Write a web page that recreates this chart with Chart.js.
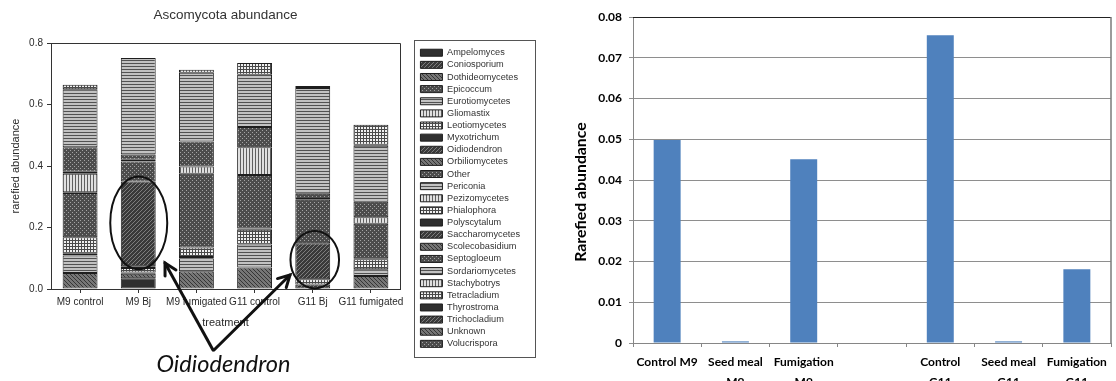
<!DOCTYPE html>
<html><head><meta charset="utf-8">
<script src="https://cdn.jsdelivr.net/npm/chart.js@4.4.1/dist/chart.umd.min.js"></script>
<style>
html,body{margin:0;padding:0;background:#fff;width:1116px;height:381px;overflow:hidden;}
#left{position:absolute;left:0;top:0;}
#right{position:absolute;left:560px;top:0;}
</style></head><body>
<canvas id="left" width="560" height="381"></canvas>
<canvas id="right" width="556" height="381"></canvas>
<script>
// ---------- Left chart data ----------
const treatments = ['M9 control','M9 Bj','M9 fumigated','G11 control','G11 Bj','G11 fumigated'];
const taxa = ['Ampelomyces','Coniosporium','Dothideomycetes','Epicoccum','Eurotiomycetes','Gliomastix',
  'Leotiomycetes','Myxotrichum','Oidiodendron','Orbiliomycetes','Other','Periconia','Pezizomycetes',
  'Phialophora','Polyscytalum','Saccharomycetes','Scolecobasidium','Septogloeum','Sordariomycetes',
  'Stachybotrys','Tetracladium','Thyrostroma','Trichocladium','Unknown','Volucrispora'];
// abundance per taxon (same order as taxa)
const m9Control    = [0,0,0.052,0,0.057,0.006,0.053,0,0,0,0.144,0.003,0.060,0,0.006,0,0,0.080,0.189,0,0.014,0,0,0,0];
const m9Bj         = [0.035,0,0.015,0,0.004,0,0.014,0.006,0.276,0,0.065,0,0,0.005,0,0,0,0.017,0.314,0,0,0,0,0,0];
const m9Fumigated  = [0,0,0.058,0,0.042,0.004,0.031,0,0,0,0.240,0,0.023,0,0,0,0,0.082,0.223,0,0.010,0,0,0,0];
const g11Control   = [0,0,0.070,0,0.075,0,0.048,0.004,0,0,0.174,0,0.090,0,0,0,0,0.066,0.170,0,0.038,0,0,0,0];
const g11Bj        = [0,0.015,0,0,0,0,0.017,0,0.117,0,0.141,0,0,0,0.003,0,0,0.017,0.344,0,0,0.006,0,0,0];
const g11Fumigated = [0,0,0.042,0,0.022,0,0.033,0.003,0,0,0.112,0,0.021,0,0,0,0,0.051,0.182,0.003,0.065,0,0,0,0];
const leftYTicks = ['0.0','0.2','0.4','0.6','0.8'];

// ---------- Right chart data ----------
const rightCategories = ['Control M9', ['Seed meal','M9'], ['Fumigation','M9'], '', ['Control','G11'], ['Seed meal','G11'], ['Fumigation','G11']];
const oidiodendronAbundance = [0.0498, 0.0004, 0.0451, null, 0.0755, 0.0004, 0.0181];
const rightYTicks = ['0','0.01','0.02','0.03','0.04','0.05','0.06','0.07','0.08'];

// ---------- patterns ----------
const leftCanvas = document.getElementById('left');
const lctx = leftCanvas.getContext('2d');
const patternKinds = ['solid','diag','backdiag','checker','horiz','vert','grid'];
function makePattern(kind){
  const c = document.createElement('canvas');
  const g = c.getContext('2d');
  let s = 4;
  if (kind==='horiz'||kind==='vert'||kind==='grid') s = 3;
  c.width = s; c.height = s;
  const px = (x,y,col)=>{g.fillStyle=col;g.fillRect(x,y,1,1);};
  switch(kind){
    case 'solid': g.fillStyle='#2f2f2f'; g.fillRect(0,0,s,s); break;
    case 'diag': g.fillStyle='#3a3a3a'; g.fillRect(0,0,s,s); for(let i=0;i<s;i++) px(i,s-1-i,'#7e7e7e'); break;
    case 'backdiag': g.fillStyle='#767676'; g.fillRect(0,0,s,s); for(let i=0;i<s;i++) px(i,i,'#353535'); break;
    case 'checker': g.fillStyle='#4c4c4c'; g.fillRect(0,0,s,s); px(0,0,'#a4a4a4'); px(2,2,'#a4a4a4'); break;
    case 'horiz': g.fillStyle='#c2c2c2'; g.fillRect(0,0,s,s); g.fillStyle='#525252'; g.fillRect(0,0,s,1); break;
    case 'vert': g.fillStyle='#e0e0e0'; g.fillRect(0,0,s,s); g.fillStyle='#606060'; g.fillRect(0,0,1,s); break;
    case 'grid': g.fillStyle='#f0f0f0'; g.fillRect(0,0,s,s); g.fillStyle='#4a4a4a'; g.fillRect(0,0,s,1); g.fillRect(0,0,1,s); break;
  }
  return lctx.createPattern(c,'repeat');
}
const patterns = {};
patternKinds.forEach(k=>patterns[k]=makePattern(k));

const perTreatment = [m9Control, m9Bj, m9Fumigated, g11Control, g11Bj, g11Fumigated];
const leftDatasets = taxa.map((name,i)=>({
  label: name,
  data: perTreatment.map(arr=>arr[i]),
  backgroundColor: patterns[patternKinds[i%7]],
  borderColor: '#1e1e1e',
  borderWidth: 1,
  borderSkipped: false,
  barPercentage: 0.6,
  categoryPercentage: 1
}));

const arial = "'Liberation Sans', Arial, sans-serif";
const txt = '#2a2a2a';

const leftDecor = {
  id: 'leftDecor',
  afterLayout(chart){
    const lg = chart.legend;
    if (!lg) return;
    lg.left = 417.5; lg.top = 45.2; lg.right = 537; lg.bottom = 357;
    lg.width = lg.right - lg.left; lg.height = lg.bottom - lg.top;
  },
  afterDraw(chart){
    const ctx = chart.ctx, a = chart.chartArea;
    ctx.save();
    ctx.strokeStyle = '#333'; ctx.lineWidth = 1;
    ctx.beginPath();
    ctx.moveTo(a.left, a.top+0.5); ctx.lineTo(a.right+0.5, a.top+0.5); ctx.lineTo(a.right+0.5, a.bottom);
    ctx.stroke();
    ctx.strokeStyle = '#555';
    ctx.strokeRect(414.5, 40.5, 121, 317);
    const xs = chart.scales.x, ys = chart.scales.y;
    ctx.strokeStyle = '#111'; ctx.lineWidth = 2;
    ctx.beginPath();
    ctx.ellipse(xs.getPixelForValue(1)+0.5, (ys.getPixelForValue(0.366)+ys.getPixelForValue(0.064))/2, 28.5, (ys.getPixelForValue(0.064)-ys.getPixelForValue(0.366))/2, 0, 0, Math.PI*2);
    ctx.stroke();
    ctx.beginPath();
    ctx.ellipse(xs.getPixelForValue(4)+2, (ys.getPixelForValue(0.189)+ys.getPixelForValue(0.002))/2, 24.3, (ys.getPixelForValue(0.002)-ys.getPixelForValue(0.189))/2, 0, 0, Math.PI*2);
    ctx.stroke();
    function arrow(x0,y0,x1,y1){
      ctx.lineWidth = 3; ctx.lineCap = 'round'; ctx.lineJoin='miter';
      ctx.beginPath(); ctx.moveTo(x0,y0); ctx.lineTo(x1,y1); ctx.stroke();
      const ang = Math.atan2(y1-y0, x1-x0), L = 13, sp = 0.5;
      ctx.beginPath();
      ctx.moveTo(x1 - L*Math.cos(ang-sp), y1 - L*Math.sin(ang-sp));
      ctx.lineTo(x1,y1);
      ctx.lineTo(x1 - L*Math.cos(ang+sp), y1 - L*Math.sin(ang+sp));
      ctx.stroke();
    }
    arrow(213,350,165,263);
    arrow(214,350,290,275);
    ctx.fillStyle = '#111';
    ctx.font = "italic 24px Lato, 'Liberation Sans', sans-serif";
    ctx.textAlign = 'center'; ctx.textBaseline = 'alphabetic';
    ctx.fillText('Oidiodendron', 223.5, 371.5, 134);
    ctx.restore();
  }
};

new Chart(leftCanvas, {
  type: 'bar',
  data: { labels: treatments, datasets: leftDatasets },
  options: {
    responsive: false, animation: false, devicePixelRatio: 1,
    layout: { padding: { left: 0, top: 0, right: 60, bottom: 0 } },
    plugins: {
      tooltip: { enabled: false },
      title: { display: true, text: 'Ascomycota abundance', fullSize: false, color: '#333',
        font: { family: arial, size: 13.5, weight: 'normal' }, padding: { top: 7, bottom: 19.8 } },
      legend: { display: true, position: 'right', align: 'start', maxWidth: 100,
        labels: { font: { family: arial, size: 9.2 }, color: '#333', boxWidth: 22, boxHeight: 7, padding: 2.93 } }
    },
    scales: {
      x: { stacked: true, offset: true,
        grid: { offset: false, drawOnChartArea: false, drawTicks: true, tickLength: 4, color: '#333' },
        border: { color: '#333' },
        ticks: { font: { family: arial, size: 10 }, color: txt, padding: 3, maxRotation: 0, autoSkip: false },
        title: { display: true, text: 'treatment', color: txt, font: { family: arial, size: 11 }, padding: { top: 0, bottom: 51 } },
        afterFit(s){ s.height = 92; } },
      y: { stacked: true, min: 0, max: 0.8,
        grid: { drawOnChartArea: false, drawTicks: true, tickLength: 4, color: '#333' },
        border: { color: '#333' },
        ticks: { stepSize: 0.2, font: { family: arial, size: 10 }, color: txt, padding: 4,
          callback: (v,i)=>leftYTicks[i] },
        title: { display: true, text: 'rarefied abundance', color: txt, font: { family: arial, size: 11 }, padding: { top: 9, bottom: 0 } },
        afterFit(s){ s.width = 51; } }
    }
  },
  plugins: [leftDecor]
});

// ---------- Right chart ----------
const lato = "Lato, 'Open Sans', sans-serif";
const rightYTitle = 'Rarefied abundance';
const rightFrame = {
  id: 'rightFrame',
  afterDraw(chart){
    const ctx = chart.ctx, a = chart.chartArea;
    ctx.save();
    ctx.lineWidth = 1;
    ctx.strokeStyle = '#222';
    ctx.beginPath(); ctx.moveTo(a.left, a.top+0.5); ctx.lineTo(a.right, a.top+0.5); ctx.stroke();
    ctx.strokeStyle = '#7a7a7a'; ctx.lineWidth = 1.5;
    ctx.beginPath(); ctx.moveTo(a.right, a.top); ctx.lineTo(a.right, a.bottom); ctx.stroke();
    ctx.translate(21, 192);
    ctx.rotate(-Math.PI/2);
    ctx.fillStyle = '#000';
    ctx.font = "bold 15.8px " + lato;
    ctx.textAlign = 'center'; ctx.textBaseline = 'middle';
    ctx.fillText(rightYTitle, 0, 0);
    ctx.restore();
  }
};
new Chart(document.getElementById('right'), {
  type: 'bar',
  data: { labels: rightCategories, datasets: [{ label: 'Oidiodendron', data: oidiodendronAbundance,
    backgroundColor: '#4F81BD', borderWidth: 0, barPercentage: 0.395, categoryPercentage: 1 }] },
  options: {
    responsive: false, animation: false, devicePixelRatio: 1,
    layout: { padding: { left: 0, top: 17, right: 5, bottom: 0 } },
    plugins: { legend: { display: false }, tooltip: { enabled: false } },
    scales: {
      x: { grid: { offset: true, drawOnChartArea: false, drawTicks: true, tickLength: 4, color: '#868686' },
        border: { color: '#868686' },
        ticks: { font: { family: lato, size: 12, weight: 'bold', lineHeight: 1.68 }, color: '#000', padding: 5, maxRotation: 0, autoSkip: false },
        afterFit(s){ s.height = 38; } },
      y: { min: 0, max: 0.08,
        grid: { color: '#8e8e8e', drawTicks: true, tickLength: 4 },
        border: { color: '#868686' },
        ticks: { stepSize: 0.01, font: { family: lato, size: 12, weight: 'bold' }, color: '#000', padding: 7,
          callback: (v,i)=>rightYTicks[i] },
        afterFit(s){ s.width = 73; } }
    }
  },
  plugins: [rightFrame]
});
</script>
</body></html>
